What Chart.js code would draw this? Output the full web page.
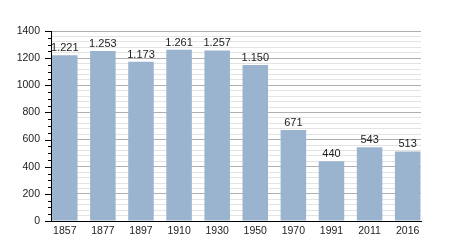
<!DOCTYPE html>
<html>
<head>
<meta charset="utf-8">
<script src="https://cdn.jsdelivr.net/npm/chart.js@4/dist/chart.umd.min.js"></script>
<style>
  html, body { margin: 0; padding: 0; background: #fff; }
  #wrap { width: 450px; height: 250px; position: relative; }
</style>
</head>
<body>
<div id="wrap"><canvas id="chart"></canvas></div>
<script>
// population by census year
const years = ['1857', '1877', '1897', '1910', '1930', '1950', '1970', '1991', '2011', '2016'];
const population = [1221, 1253, 1173, 1261, 1257, 1150, 671, 440, 543, 513];

const FONT = '"Liberation Sans", Arial, sans-serif';

// 1.221 style thousands separator
const fmt = (v) => String(v).replace(/\B(?=(\d{3})+(?!\d))/g, '.');

// value labels above each bar
const barLabels = {
  id: 'barLabels',
  afterDatasetsDraw(chart) {
    const { ctx } = chart;
    const meta = chart.getDatasetMeta(0);
    ctx.save();
    ctx.font = '11px ' + FONT;
    ctx.fillStyle = '#222';
    ctx.textAlign = 'center';
    ctx.textBaseline = 'alphabetic';
    meta.data.forEach((bar, i) => {
      ctx.fillText(fmt(population[i]), bar.x, bar.y - 4);
    });
    ctx.restore();
  }
};

// tick marks on the y axis: long every 200, short every 50
const yTickMarks = {
  id: 'yTickMarks',
  afterDraw(chart) {
    const { ctx, scales: { y } } = chart;
    const x0 = chart.chartArea.left;
    ctx.save();
    ctx.strokeStyle = '#000';
    ctx.lineWidth = 1;
    for (let v = 0; v <= 1400; v += 50) {
      const py = Math.round(y.getPixelForValue(v)) + 0.5;
      const len = v % 200 === 0 ? 6 : 3;
      ctx.beginPath();
      ctx.moveTo(x0 - len, py);
      ctx.lineTo(x0, py);
      ctx.stroke();
    }
    ctx.restore();
  }
};

new Chart(document.getElementById('chart'), {
  type: 'bar',
  data: {
    datasets: [{
      data: population.map((v, i) => ({ x: i, y: v })),
      backgroundColor: '#9ab3cf',
      borderWidth: 0,
      barPercentage: 0.67,
      categoryPercentage: 1,
    }]
  },
  options: {
    responsive: true,
    maintainAspectRatio: false,
    animation: false,
    layout: { padding: { top: 31, right: 29, bottom: 0, left: 0 } },
    plugins: {
      legend: { display: false },
      tooltip: { enabled: false }
    },
    scales: {
      x: {
        type: 'linear',
        min: -0.362,
        max: 9.35,
        offset: false,
        grid: { display: false, offset: false, drawTicks: false },
        border: { display: true, color: '#000', width: 1 },
        afterBuildTicks: (scale) => { scale.ticks = years.map((_, i) => ({ value: i })); },
        afterFit: (scale) => { scale.height = 29; },
        ticks: {
          autoSkip: false,
          maxRotation: 0,
          padding: 4,
          color: '#222',
          font: { family: FONT, size: 10.5 },
          callback: (v) => years[v]
        }
      },
      y: {
        min: 0,
        max: 1400,
        afterFit: (scale) => { scale.width = 51; },
        border: { display: true, color: '#000', width: 1 },
        grid: {
          drawTicks: false,
          color: (c) => (c.tick && c.tick.value % 200 === 0) ? '#b0b0b0' : '#e3e3e3',
          lineWidth: 1
        },
        ticks: {
          stepSize: 40,
          autoSkip: false,
          padding: 11,
          color: '#222',
          font: { family: FONT, size: 10.5 },
          callback: (v) => v % 200 === 0 ? v : ''
        }
      }
    }
  },
  plugins: [barLabels, yTickMarks]
});
</script>
</body>
</html>
